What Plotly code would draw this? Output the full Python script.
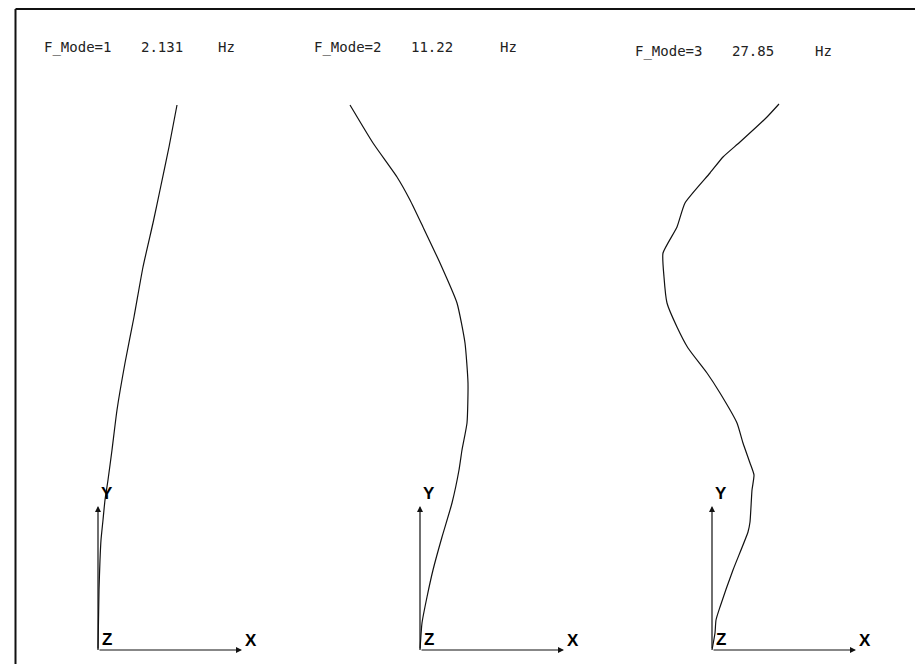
import plotly.graph_objects as go

# ---- data: mode shapes (height above base, lateral displacement), drawing units ----
mode_labels = ["F_Mode=1", "F_Mode=2", "F_Mode=3"]
mode_freqs = ["2.131", "11.22", "27.85"]
freq_unit = "Hz"

mode1_h = [0, 60, 90, 110, 130, 150, 170, 200, 240, 287, 333, 383, 427, 460, 503, 545]
mode1_d = [0, 1, 2, 3, 5, 7, 10, 14, 19, 27, 36, 45, 55, 62, 71, 79]

mode2_h = [0, 27, 53, 80, 113, 147, 180, 200, 227, 267, 307, 347, 387, 423, 450, 473, 507, 545]
mode2_d = [0, 2, 7, 13, 22, 32, 39, 42, 47, 48, 45, 37, 20, 3, -10, -23, -47, -70]

mode3_h = [0, 17, 30, 43, 80, 118, 128, 160, 175, 187, 207, 227, 257, 277, 302, 323, 347,
           373, 397, 423, 447, 477, 493, 508, 533, 546]
mode3_d = [0, 3, 4, 8, 21, 36, 38, 40, 42, 38, 31, 25, 8, -5, -24, -35, -45,
           -48, -49, -35, -27, -2, 11, 28, 55, 67]

# ---- layout constants (page pixels; the page body has an 8px margin) ----
PAGE_OFF = 8
W, H = 923 - PAGE_OFF, 664 - PAGE_OFF
ORIGINS_PX = [98, 420, 712]      # page-pixel x of each mode's base
BASE_PX = 650                     # page-pixel y of the base
TRIAD_LEN = 144
TITLE_CENTERS = [(77, 161.5, 226.5, 47), (347.5, 431.5, 508.5, 47), (668, 753, 823.5, 51)]
LINE = "#111111"


def px_x(p):
    return (p - PAGE_OFF) / W


def px_y(p):
    return 1 - (p - PAGE_OFF) / H


fig = go.Figure()
xaxes = ["x", "x2", "x3"]
modes = [(mode1_d, mode1_h), (mode2_d, mode2_h), (mode3_d, mode3_h)]
for (d, h), xa in zip(modes, xaxes):
    fig.add_trace(go.Scatter(x=d, y=h, mode="lines", xaxis=xa, yaxis="y",
                             line=dict(color=LINE, width=1.2, shape="spline", smoothing=0.5),
                             showlegend=False, hoverinfo="skip"))

layout_axes = {}
for i, ox in enumerate(ORIGINS_PX):
    name = "xaxis" if i == 0 else f"xaxis{i+1}"
    o = ox - PAGE_OFF
    ax = dict(range=[-o, W - o], visible=False, fixedrange=True)
    if i > 0:
        ax["overlaying"] = "x"
    layout_axes[name] = ax

annotations = []
label_font = dict(family="Liberation Sans, Arial, sans-serif", size=17, color="#000")
for i, xa in enumerate(xaxes):
    for hx, hy in [(0, TRIAD_LEN), (TRIAD_LEN, 0)]:
        annotations.append(dict(x=hx, y=hy, ax=0, ay=0, xref=xa, yref="y", axref=xa, ayref="y",
                                showarrow=True, arrowhead=2, arrowsize=1, arrowwidth=1.2,
                                arrowcolor=LINE, text="", standoff=0))
    annotations.append(dict(x=9, y=TRIAD_LEN + 13, xref=xa, yref="y", text="<b>Y</b>", showarrow=False,
                            font=label_font, xanchor="center", yanchor="middle"))
    annotations.append(dict(x=TRIAD_LEN + 9, y=10, xref=xa, yref="y", text="<b>X</b>", showarrow=False,
                            font=label_font, xanchor="center", yanchor="middle"))
    annotations.append(dict(x=9, y=11, xref=xa, yref="y", text="<b>Z</b>", showarrow=False,
                            font=label_font, xanchor="center", yanchor="middle"))
    c1, c2, c3, cy = TITLE_CENTERS[i]
    tf = dict(family="DejaVu Sans Mono, monospace", size=14, color="#222")
    for txt, cx in [(mode_labels[i], c1), (mode_freqs[i], c2), (freq_unit, c3)]:
        annotations.append(dict(x=px_x(cx), y=px_y(cy), xref="paper", yref="paper", text=txt,
                                showarrow=False, font=tf, xanchor="center", yanchor="middle"))

shapes = [
    dict(type="line", xref="paper", yref="paper", x0=px_x(15.5), x1=1.01, y0=px_y(9), y1=px_y(9),
         line=dict(color="#111", width=2)),
    dict(type="line", xref="paper", yref="paper", x0=px_x(15.5), x1=px_x(15.5), y0=px_y(9), y1=-0.01,
         line=dict(color="#111", width=2)),
]

fig.update_layout(
    width=W, height=H,
    margin=dict(l=0, r=0, t=0, b=0),
    paper_bgcolor="white", plot_bgcolor="white",
    yaxis=dict(range=[(BASE_PX - PAGE_OFF) - H, BASE_PX - PAGE_OFF], visible=False, fixedrange=True),
    annotations=annotations, shapes=shapes,
    showlegend=False,
    **layout_axes,
)

fig.write_html("out.html")
